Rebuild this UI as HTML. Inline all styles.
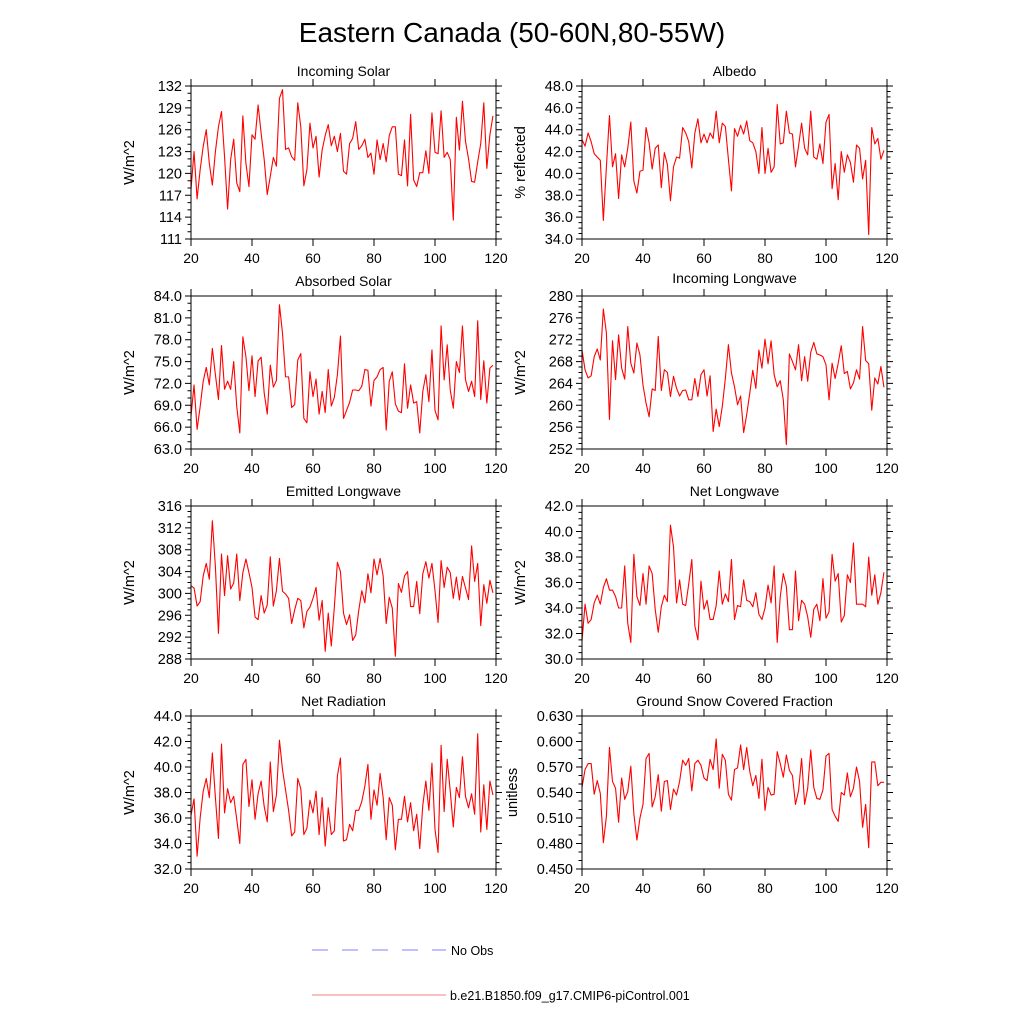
<!DOCTYPE html>
<html><head><meta charset="utf-8"><title>Eastern Canada</title>
<style>html,body{margin:0;padding:0;background:#fff}svg{display:block}text{font-family:"Liberation Sans",Arial,sans-serif;fill:#000}</style>
</head><body>
<svg id="chart" width="1024" height="1024" viewBox="0 0 1024 1024" xmlns="http://www.w3.org/2000/svg">
<text x="512" y="42" font-size="28" text-anchor="middle">Eastern Canada (50-60N,80-55W)</text>
<g>
<line x1="312" y1="950" x2="446" y2="950" stroke="#8080ff" stroke-width="1" stroke-dasharray="16,14"/>
<text x="451" y="955" font-size="12.5">No Obs</text>
<line x1="312" y1="995" x2="446" y2="995" stroke="#f08080" stroke-width="1"/>
<text x="450" y="1000" font-size="12.5">b.e21.B1850.f09_g17.CMIP6-piControl.001</text>
</g>
</svg>
<script>
const xTickLabels = [20, 40, 60, 80, 100, 120];
const firstYear = 20;
const incomingSolar = [117.8,123,116.5,120.5,123.7,126,121.4,118.4,123,126.4,128.5,122.3,115.1,121.9,124.7,118.7,117.5,127.9,121.4,118.2,125.3,124.7,129.4,125.5,121.9,117.1,119.6,122.2,121,130.3,131.5,123.3,123.5,122.3,121.8,129.7,126.4,118.3,120.5,126.9,123.5,125.1,119.5,123.2,125.2,126.7,123.8,125.1,123,125.5,120.3,119.9,124.1,124.8,127.1,123.3,123.8,124.7,122.2,122.8,119.9,124.6,121.9,124.1,121.6,125.2,126.4,126.4,119.9,119.7,124.6,118.3,128.1,119.1,118.2,120.1,120.1,123.1,120,128.3,122.9,122.7,128.6,122.2,122.9,121.9,113.6,127.7,123.2,129.9,124.4,122,118.9,118.8,121.6,124.1,129.7,120.7,125.3,127.9];
const albedo = [43.1,42.5,43.7,42.9,41.8,41.5,41.2,35.7,40.6,45.3,40.6,41.8,37.7,41.7,40.6,42.3,44.7,39.3,38.2,40.2,40.3,44.2,42.8,40.4,42.3,42.6,38.7,41.9,40.8,37.5,40.6,41.5,41.4,44.2,43.7,42.9,40.5,43.7,45,42.8,43.6,42.8,43.7,43.2,45.7,42.8,44.6,44.3,41.3,38.4,44.1,43.4,44.4,43.6,44.8,43,42.8,42,40,44.2,40,42.3,40.1,40.6,46.3,42.7,42.8,45.7,43.7,43.6,40.6,42.5,44.6,42.3,41.7,45.7,41.5,41.3,42.7,40.9,44.7,45.4,38.6,40.9,37.6,42,40.1,41.7,41,39.2,42.6,42.3,39.5,41.2,34.4,44.2,42.7,43.2,41.3,42.1];
const absorbedSolar = [67.5,71.8,65.7,68.8,72.3,74.2,71.8,76.8,73.2,69.8,77.2,71.2,72.3,71.2,75,68.8,65.2,78.4,75.7,71,75.8,70.2,75.1,75.6,70.7,67.8,74.5,71.5,72.4,82.8,78.9,72.9,72.9,68.7,69.1,75.2,76.1,67.2,66.6,73.6,70.2,72.6,67.8,70.9,68,73.9,68.9,70.1,73.2,78.5,67.2,68.3,69.4,71.1,71.1,71,71.6,73.9,73.8,68.9,72.4,72.9,73.9,74.2,65.6,72.3,73.6,69.2,68.2,68,74.7,68.6,71.8,69.3,69.5,65.2,70.9,73.2,69.5,76.6,68.3,67,79.9,72.5,77.3,71.1,68.6,75,73.5,79.9,72.5,70.9,72.3,70.2,80.6,69.8,75.1,69.3,74.1,74.5];
const incomingLW = [270.1,266.5,265,265.4,268.9,270.3,268.3,277.6,273.2,257.4,271.8,264.7,272.9,266.8,264.8,274.4,267.7,265.9,271.4,269.2,263.7,260.4,257.9,263,262.7,272.6,262.7,266.5,266,261.6,265.3,263.1,261.7,262.7,262.8,261,261,264.9,261.6,265.6,266.5,261.7,265.4,255.2,259.3,256.1,259.8,264.9,271.1,265.9,263.4,260.1,261.7,255,258.3,262.2,266.4,263.1,270.1,266.8,272.1,267.6,271.8,265.6,263.4,264.5,261,252.8,269.4,268,266.5,271.1,264.5,268.9,264.4,269.7,271.5,269.4,269.2,268.9,267.4,261,267.7,264.9,267.7,270.9,265.8,266.2,263,264.1,266.5,264.8,274.4,268.2,267.6,259.1,265,263.9,267.1,263.3];
const emittedLW = [301.4,301,297.7,298.5,303.2,305.5,302.6,313.3,304.9,292.7,307.2,299.6,306.9,300.8,301.9,307.2,298.7,303.8,306.3,303.8,301.1,295.7,295.2,299.6,296.4,297.9,306.7,297.7,300.5,306.4,300.4,299.9,299.1,294.5,297,299.1,298.7,293.7,296.7,297.5,299.1,301.1,295.1,298.7,289.4,296.4,290.4,297.5,305.7,304,296.4,294.3,296.1,291.4,292.4,296.9,300.5,298.3,303.6,300.1,306.3,303.4,306.4,303.2,294.5,299.3,297.3,288.5,301.8,300.2,303.2,304,297.6,297.6,302.2,296.3,303.6,305.8,302.8,305.5,300.5,294.7,306,301.1,304.8,303.8,299.1,303,298.8,303.1,301,298.9,308.7,302.2,305.5,294.1,301.6,298.2,302.4,300.1];
const netLW = [31.4,34.3,32.8,33.1,34.4,35,34.3,35.6,36.3,35.4,35.4,34.9,34,34,37.3,32.8,31.3,38.2,34.9,34.2,36.7,34.3,37.3,36.7,33.9,32.1,34.1,35,34.5,40.5,38.8,34.4,36.2,34.3,34.2,35.9,37.8,32.6,31.5,36.1,33.9,34.6,33.1,33.1,34.2,36.9,34.3,35.1,34.5,37.8,33.1,34.2,34.1,36.2,34.6,34.5,34.1,35.2,33.5,33.1,34,35.8,34.4,37.3,31.3,34.9,36.7,35.7,32.3,32.3,36.9,33,34.6,34.3,33.3,31.7,33.9,34.3,33,36.3,33.2,33.7,38.2,36.1,36.7,32.9,33.4,36.6,36,39.1,34.3,34.3,34.3,34.1,38,35,36.6,34.3,35.2,36.8];
const netRad = [36.2,37.5,33,36,38.1,39.1,37.6,41.1,37.6,34.4,41.8,36.4,38.3,37.2,37.7,35.9,34,40.2,40.6,36.9,39,35.9,37.9,38.9,36.9,35.7,40.4,36.5,37.8,42.1,39.8,38.2,36.6,34.6,34.9,39.1,38.3,34.7,35.2,37.4,36.4,38.1,34.7,37.6,33.8,36.8,34.7,35,39.3,40.7,34.2,34.3,35.5,35,36.6,36.6,37.3,38.5,40.2,35.9,38.2,37,39.5,37.6,34.3,37.6,37,33.5,35.9,35.9,37.7,35.7,37.2,35,36.3,33.6,37,38.9,36.6,40.3,35.1,33.3,41.7,36.5,40.6,38.1,35.3,38.4,37.6,40.8,37.7,36.8,37.9,36.3,42.6,34.9,38.6,35.1,38.9,37.8];
const snowFrac = [0.546,0.567,0.574,0.574,0.538,0.554,0.539,0.481,0.512,0.593,0.553,0.545,0.505,0.557,0.532,0.541,0.571,0.515,0.484,0.51,0.526,0.58,0.586,0.523,0.535,0.561,0.518,0.553,0.554,0.52,0.544,0.537,0.553,0.578,0.572,0.58,0.542,0.574,0.578,0.572,0.557,0.554,0.579,0.567,0.603,0.545,0.585,0.578,0.538,0.531,0.567,0.569,0.596,0.567,0.593,0.565,0.548,0.56,0.533,0.579,0.519,0.546,0.537,0.538,0.588,0.574,0.558,0.584,0.566,0.56,0.526,0.542,0.58,0.526,0.545,0.59,0.546,0.533,0.532,0.543,0.583,0.586,0.52,0.512,0.506,0.54,0.537,0.563,0.535,0.545,0.57,0.553,0.499,0.526,0.475,0.576,0.576,0.548,0.552,0.552];
const ticksIS = [111,114,117,120,123,126,129,132];
const ticksAL = [34,36,38,40,42,44,46,48];
const ticksAS = [63,66,69,72,75,78,81,84];
const ticksIL = [252,256,260,264,268,272,276,280];
const ticksEL = [288,292,296,300,304,308,312,316];
const ticksNL = [30,32,34,36,38,40,42];
const ticksNR = [32,34,36,38,40,42,44];
const ticksSN = [0.45,0.48,0.51,0.54,0.57,0.60,0.63];

const NS='http://www.w3.org/2000/svg';
const svg=document.getElementById('chart');
function mk(tag,attrs,parent){const e=document.createElementNS(NS,tag);for(const k in attrs)e.setAttribute(k,attrs[k]);(parent||svg).appendChild(e);return e;}

const panels=[
 {name:'incoming-solar',title:'Incoming Solar',ytitle:'W/m^2',data:incomingSolar,ticks:ticksIS,dec:0,minor:3,col:0,row:0},
 {name:'albedo',title:'Albedo',ytitle:'% reflected',data:albedo,ticks:ticksAL,dec:1,minor:4,col:1,row:0},
 {name:'absorbed-solar',title:'Absorbed Solar',ytitle:'W/m^2',data:absorbedSolar,ticks:ticksAS,dec:1,minor:3,col:0,row:1},
 {name:'incoming-longwave',title:'Incoming Longwave',ytitle:'W/m^2',data:incomingLW,ticks:ticksIL,dec:0,minor:4,col:1,row:1,tdy:-3},
 {name:'emitted-longwave',title:'Emitted Longwave',ytitle:'W/m^2',data:emittedLW,ticks:ticksEL,dec:0,minor:4,col:0,row:2},
 {name:'net-longwave',title:'Net Longwave',ytitle:'W/m^2',data:netLW,ticks:ticksNL,dec:1,minor:4,col:1,row:2},
 {name:'net-radiation',title:'Net Radiation',ytitle:'W/m^2',data:netRad,ticks:ticksNR,dec:1,minor:4,col:0,row:3},
 {name:'snow-fraction',title:'Ground Snow Covered Fraction',ytitle:'unitless',data:snowFrac,ticks:ticksSN,dec:3,minor:3,col:1,row:3,ytx:-8}
];
const colX=[191,582], W=305, rowY=[86,296,506,716], H=153;

panels.forEach(p=>{
 const x0=colX[p.col], y0=rowY[p.row];
 const g=mk('g',{});
 
 
 const ymin=p.ticks[0], ymax=p.ticks[p.ticks.length-1];
 const sx=v=>x0+(v-xTickLabels[0])/(xTickLabels[xTickLabels.length-1]-xTickLabels[0])*W;
 const sy=v=>y0+H-(v-ymin)/(ymax-ymin)*H;
 let d='';
 p.data.forEach((v,i)=>{d+=(i?'L':'M')+sx(firstYear+i).toFixed(2)+','+sy(v).toFixed(2);});
 const line=mk('path',{d:d,fill:'none',stroke:'#ff0000','stroke-width':1.1,'stroke-linejoin':'round'},g);
 
 
 const fr=mk('rect',{x:x0,y:y0,width:W,height:H,fill:'none',stroke:'#000','stroke-width':1},g);
 
 
 let td='';
 xTickLabels.forEach(t=>{const x=sx(t);td+=`M${x},${y0+H}v7M${x},${y0}v-7`;
  const tl=mk('text',{x:x,y:y0+H+24,'font-size':14,'text-anchor':'middle'},g);tl.textContent=t;
  
  
 });
 const step=p.ticks[1]-p.ticks[0];
 p.ticks.forEach((t,k)=>{const y=sy(t);td+=`M${x0},${y}h-6M${x0+W},${y}h6`;
  if(k<p.ticks.length-1){for(let m=1;m<p.minor;m++){const ym=sy(t+step*m/p.minor);td+=`M${x0},${ym}h-3.5M${x0+W},${ym}h3.5`;}}
  const tl=mk('text',{x:x0-9,y:y+5,'font-size':14.5,'text-anchor':'end'},g);tl.textContent=t.toFixed(p.dec);
  
  
 });
 const tk=mk('path',{d:td,stroke:'#000','stroke-width':1,fill:'none'},g);
 
 
 const tt=mk('text',{x:x0+W/2,y:y0-10+(p.tdy||0),'font-size':14,'text-anchor':'middle'},g);tt.textContent=p.title;
 
 
 const yx=x0-57+(p.ytx||0), yy=y0+H/2;
 const yt=mk('text',{x:yx,y:yy,'font-size':14.5,'text-anchor':'middle',transform:`rotate(-90 ${yx} ${yy})`},g);yt.textContent=p.ytitle;
 
 
});
</script>
</body></html>
